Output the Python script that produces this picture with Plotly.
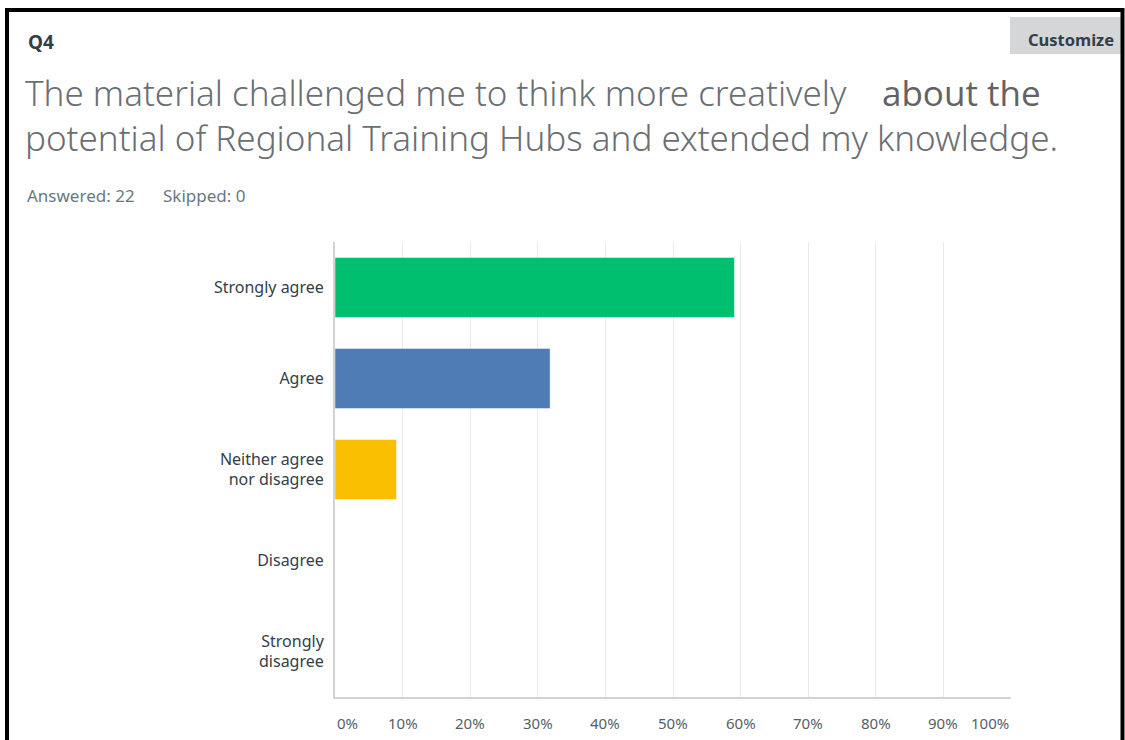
import plotly.graph_objects as go

# Survey results for Q4
categories = ["Strongly agree", "Agree", "Neither agree<br>nor disagree", "Disagree", "Strongly<br>disagree"]
percentages = [59.09, 31.82, 9.09, 0.0, 0.0]
bar_colors = ["#00BF6F", "#507CB6", "#F9BE00", "#D25F90", "#6BC8CD"]
tick_values = [0, 10, 20, 30, 40, 50, 60, 70, 80, 90, 100]
tick_labels = ["0%", "10%", "20%", "30%", "40%", "50%", "60%", "70%", "80%", "90%", "100%"]

question_no = "Q4"
title_line1 = "The material challenged me to think more creatively"
title_insert = "about the"
title_line2 = "potential of Regional Training Hubs and extended my knowledge."
answered_text = "Answered: 22"
skipped_text = "Skipped: 0"
button_text = "Customize"

W, H = 1125, 740
L, R, T, B = 335, 114, 242, 43
PW, PH = W - L - R, H - T - B

FONT = "Noto Sans"


def px(x):
    """Pixel x -> paper x."""
    return (x - L) / PW


def py(y):
    """Pixel y (from top) -> paper y."""
    return (H - B - y) / PH


fig = go.Figure()
fig.add_trace(go.Bar(
    y=categories,
    x=percentages,
    orientation="h",
    width=0.66,
    marker=dict(color=bar_colors, line=dict(color="rgba(255,255,255,0.45)", width=1)),
    hoverinfo="skip",
))

annotations = []


def text(x, y, s, size, color, anchor="left", family=FONT, weight=None, yanchor="middle"):
    f = dict(family=family, size=size, color=color)
    if weight:
        f["weight"] = weight
    annotations.append(dict(
        x=px(x), y=py(y), xref="paper", yref="paper", text=s, showarrow=False,
        xanchor=anchor, yanchor=yanchor, font=f,
    ))


text(26, 42, question_no, 19, "#333e48", weight="bold")
text(23, 92, title_line1, 35, "#6b6f73", weight=300)
text(880, 92, title_insert, 35, "#636363", family="Open Sans")
text(23, 138, title_line2, 35, "#6b6f73", weight=300)
text(25, 196, answered_text, 17, "#6b787f")
text(161, 196, skipped_text, 17, "#6b787f")
text(1071, 39, button_text, 16.5, "#333e48", anchor="center", weight="bold")

# percentage tick labels, end labels kept inside the axis span
for v, lab in zip(tick_values, tick_labels):
    anchor = "left" if v == tick_values[0] else ("right" if v == tick_values[-1] else "center")
    annotations.append(dict(
        x=v, y=py(723), xref="x", yref="paper", text=lab, showarrow=False,
        xanchor=anchor, yanchor="middle", font=dict(family=FONT, size=15, color="#555f68"),
    ))

shapes = [
    # Customize button
    dict(type="rect", xref="paper", yref="paper", x0=px(1010), x1=px(1122), y0=py(54), y1=py(17),
         fillcolor="#d4d6d8", line=dict(width=0), layer="below"),
    # outer frame
    dict(type="rect", xref="paper", yref="paper", x0=px(7), x1=px(1122.5), y0=py(760), y1=py(10),
         fillcolor="rgba(0,0,0,0)", line=dict(color="#000000", width=4)),
]

fig.update_layout(
    width=W, height=H, autosize=False,
    margin=dict(l=L, r=R, t=T, b=B, pad=0),
    paper_bgcolor="white", plot_bgcolor="white",
    showlegend=False,
    bargap=0.34,
    annotations=annotations,
    shapes=shapes,
    xaxis=dict(
        range=[0, 100], tickvals=tick_values, showticklabels=False,
        showgrid=True, gridcolor="#ebebeb", gridwidth=1,
        zeroline=False, showline=True, linecolor="#d3d3d3", linewidth=2,
        fixedrange=True,
    ),
    yaxis=dict(
        categoryorder="array", categoryarray=categories, autorange="reversed",
        showgrid=False, zeroline=False, showline=True, linecolor="#d3d3d3", linewidth=2,
        ticks="", ticklabelstandoff=6,
        tickfont=dict(family=FONT, size=16, color="#333e48"),
        fixedrange=True,
    ),
)

fig.write_html("out.html", config={"displayModeBar": False})
